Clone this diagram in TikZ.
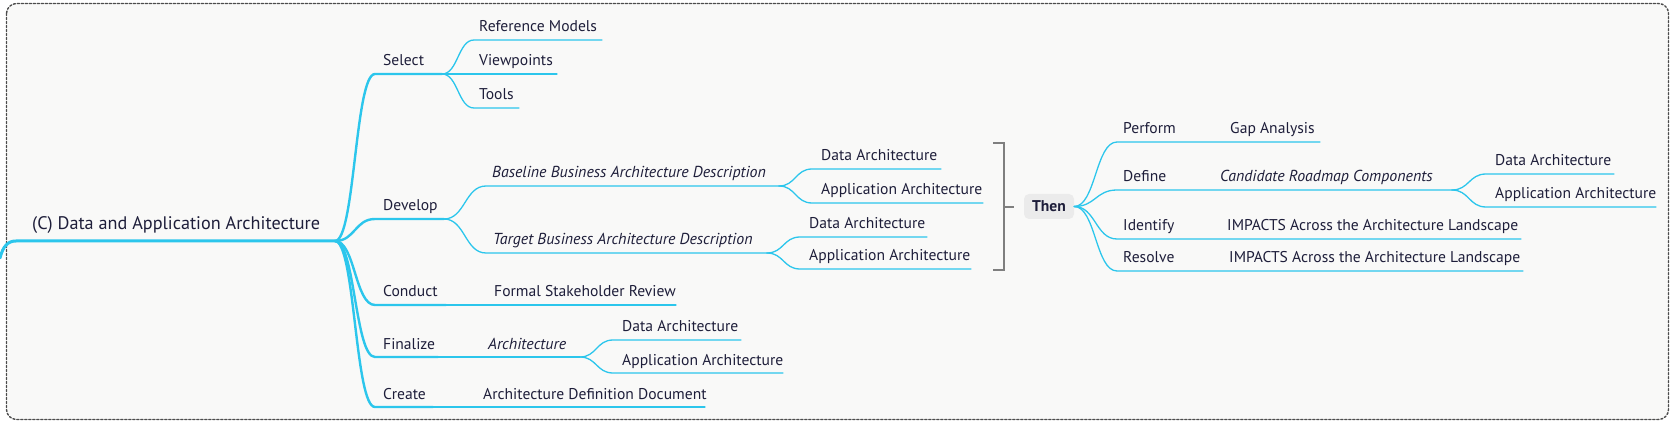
\documentclass[tikz,border=0pt]{standalone}
\usepackage{fontspec}
\setmainfont{PT Sans}
\usetikzlibrary{calc}
\definecolor{ink}{HTML}{1E1E3A}
\definecolor{cyl}{HTML}{2CC6EC}
\definecolor{bgc}{HTML}{F9F9F8}
\definecolor{brk}{HTML}{7F7F7F}
\definecolor{thenfill}{HTML}{EBEBEB}
\tikzset{
  txt/.style={anchor=base west, inner sep=0pt, font=\fontsize{15.6}{18}\selectfont, text=ink},
  itxt/.style={txt, font=\fontsize{15.9}{18}\selectfont\itshape},
  roottxt/.style={txt, font=\fontsize{18.2}{21}\selectfont},
  rootline/.style={draw=cyl, line width=3pt},
  lone/.style={draw=cyl, line width=2.4pt},
  ltwo/.style={draw=cyl, line width=1.3pt},
  cv/.style={to path={let \p1=(\tikztostart), \p2=(\tikztotarget), \n1={(\x1+\x2)/2} in
     .. controls (\n1,\y1) and (\n1,\y2) .. (\tikztotarget) \tikztonodes}},
}
\begin{document}
\begin{tikzpicture}[x=1pt, y=-1pt, line cap=round]
\useasboundingbox (0,0) rectangle (1675,427);
\fill[white] (0,0) rectangle (1675,427);
\draw[fill=bgc, draw=black!70, line width=1.4pt, dash pattern=on 2pt off 2pt, rounded corners=10pt] (6.5,3.5) rectangle (1668.5,419.5);

% ---------- root ----------
\coordinate (lc) at (0,258);
\coordinate (rootL) at (16,241);
\coordinate (rootR) at (335,241);
\node[roottxt] (root) at (32,230) {(C) Data and Application Architecture};
\draw[rootline] (lc) .. controls (3,246) and (8,241) .. (rootL) -- (rootR);

% ---------- level 1 ----------
\coordinate (selL) at (375,74);   \coordinate (selR) at (442,74);
\coordinate (devL) at (375,219);  \coordinate (devR) at (444,219);
\coordinate (conL) at (375,305);  \coordinate (conR) at (446,305);
\coordinate (finL) at (375,357);  \coordinate (finR) at (438,357);
\coordinate (creL) at (375,407);  \coordinate (creR) at (433,407);
\node[txt] (sel) at (383,66) {Select};
\node[txt] (dev) at (383,211) {Develop};
\node[txt] (con) at (383,297) {Conduct};
\node[txt] (fin) at (383,349) {Finalize};
\node[txt] (cre) at (383,399) {Create};
\foreach \a/\b in {selL/selR, devL/devR, conL/conR, finL/finR, creL/creR}
  \draw[lone] (rootR) to[cv] (\a) -- (\b);

% ---------- Select children ----------
\coordinate (rmL) at (474,40);  \coordinate (rmR) at (602,40);
\coordinate (vpL) at (474,74);  \coordinate (vpR) at (557,74);
\coordinate (tlL) at (474,108); \coordinate (tlR) at (519,108);
\node[txt] (rm) at (479,32) {Reference Models};
\node[txt] (vp) at (479,66) {Viewpoints};
\node[txt] (tl) at (479,100) {Tools};
\foreach \a/\b in {rmL/rmR, vpL/vpR, tlL/tlR}
  \draw[ltwo] (selR) to[cv] (\a) -- (\b);

% ---------- Develop children ----------
\coordinate (bbL) at (486,186); \coordinate (bbR) at (779,186);
\coordinate (tbL) at (486,253); \coordinate (tbR) at (767,253);
\node[itxt] (bb) at (492,178) {Baseline Business Architecture Description};
\node[itxt] (tb) at (493,245) {Target Business Architecture Description};
\draw[ltwo] (devR) to[cv] (bbL) -- (bbR);
\draw[ltwo] (devR) to[cv] (tbL) -- (tbR);

\coordinate (bdL) at (812,169); \coordinate (bdR) at (941,169);
\coordinate (baL) at (812,203); \coordinate (baR) at (983,203);
\node[txt] (bd) at (821,161) {Data Architecture};
\node[txt] (ba) at (821,195) {Application Architecture};
\draw[ltwo] (bbR) to[cv] (bdL) -- (bdR);
\draw[ltwo] (bbR) to[cv] (baL) -- (baR);

\coordinate (tdL) at (800,237); \coordinate (tdR) at (927,237);
\coordinate (taL) at (800,269); \coordinate (taR) at (971,269);
\node[txt] (td) at (809,229) {Data Architecture};
\node[txt] (ta) at (809,261) {Application Architecture};
\draw[ltwo] (tbR) to[cv] (tdL) -- (tdR);
\draw[ltwo] (tbR) to[cv] (taL) -- (taR);

% ---------- Conduct / Finalize / Create children ----------
\coordinate (fsR) at (676,305);
\node[txt] (fs) at (494,297) {Formal Stakeholder Review};
\draw[ltwo] (conR) -- (fsR);

\coordinate (arR) at (580,357);
\node[itxt] (ar) at (488,349) {Architecture};
\draw[ltwo] (finR) -- (arR);
\coordinate (fdL) at (613,340); \coordinate (fdR) at (741,340);
\coordinate (faL) at (613,373); \coordinate (faR) at (783,373);
\node[txt] (fd) at (622,332) {Data Architecture};
\node[txt] (fa) at (622,365) {Application Architecture};
\draw[ltwo] (arR) to[cv] (fdL) -- (fdR);
\draw[ltwo] (arR) to[cv] (faL) -- (faR);

\coordinate (adR) at (705,407);
\node[txt] (ad) at (483,399) {Architecture Definition Document};
\draw[ltwo] (creR) -- (adR);

% ---------- bracket and Then ----------
\coordinate (bt1) at (993,143); \coordinate (bt2) at (1004,143);
\coordinate (bb1) at (993,270); \coordinate (bb2) at (1004,270);
\coordinate (bm1) at (1004,207); \coordinate (bm2) at (1014,207);
\draw[brk, line width=2pt, line cap=butt] (bt1) -- (bt2) -- (bb2) -- (bb1);
\draw[brk, line width=2pt, line cap=butt] (bm1) -- (bm2);
\node[fill=thenfill, rounded corners=5pt, minimum width=50pt, minimum height=25pt, inner sep=0pt,
      font=\fontsize{15.6}{18}\selectfont\bfseries, text=ink] (then) at (1049,206.5) {Then};

\coordinate (pfL) at (1117,142); \coordinate (pfR) at (1182,142); \coordinate (gaR) at (1320,142);
\coordinate (dfL) at (1117,190); \coordinate (dfR) at (1216,190); \coordinate (crR) at (1452,190);
\coordinate (idL) at (1117,239); \coordinate (idR) at (1521,239);
\coordinate (rsL) at (1117,271); \coordinate (rsR) at (1523,271);
\node[txt] (pf) at (1123,134) {Perform};
\node[txt] (ga) at (1230,134) {Gap Analysis};
\node[txt] (df) at (1123,182) {Define};
\node[itxt] (cr) at (1220,182) {Candidate Roadmap Components};
\node[txt] (id) at (1123,231) {Identify};
\node[txt] (im1) at (1227,231) {IMPACTS Across the Architecture Landscape};
\node[txt] (rs) at (1123,263) {Resolve};
\node[txt] (im2) at (1229,263) {IMPACTS Across the Architecture Landscape};
\draw[ltwo] (then.east) to[cv] (pfL) -- (pfR) -- (gaR);
\draw[ltwo] (then.east) to[cv] (dfL) -- (dfR) -- (crR);
\draw[ltwo] (then.east) to[cv] (idL) -- (idR);
\draw[ltwo] (then.east) to[cv] (rsL) -- (rsR);

\coordinate (cdL) at (1486,174); \coordinate (cdR) at (1614,174);
\coordinate (caL) at (1486,207); \coordinate (caR) at (1656,207);
\node[txt] (cd) at (1495,166) {Data Architecture};
\node[txt] (ca) at (1495,199) {Application Architecture};
\draw[ltwo] (crR) to[cv] (cdL) -- (cdR);
\draw[ltwo] (crR) to[cv] (caL) -- (caR);
\end{tikzpicture}
\end{document}
